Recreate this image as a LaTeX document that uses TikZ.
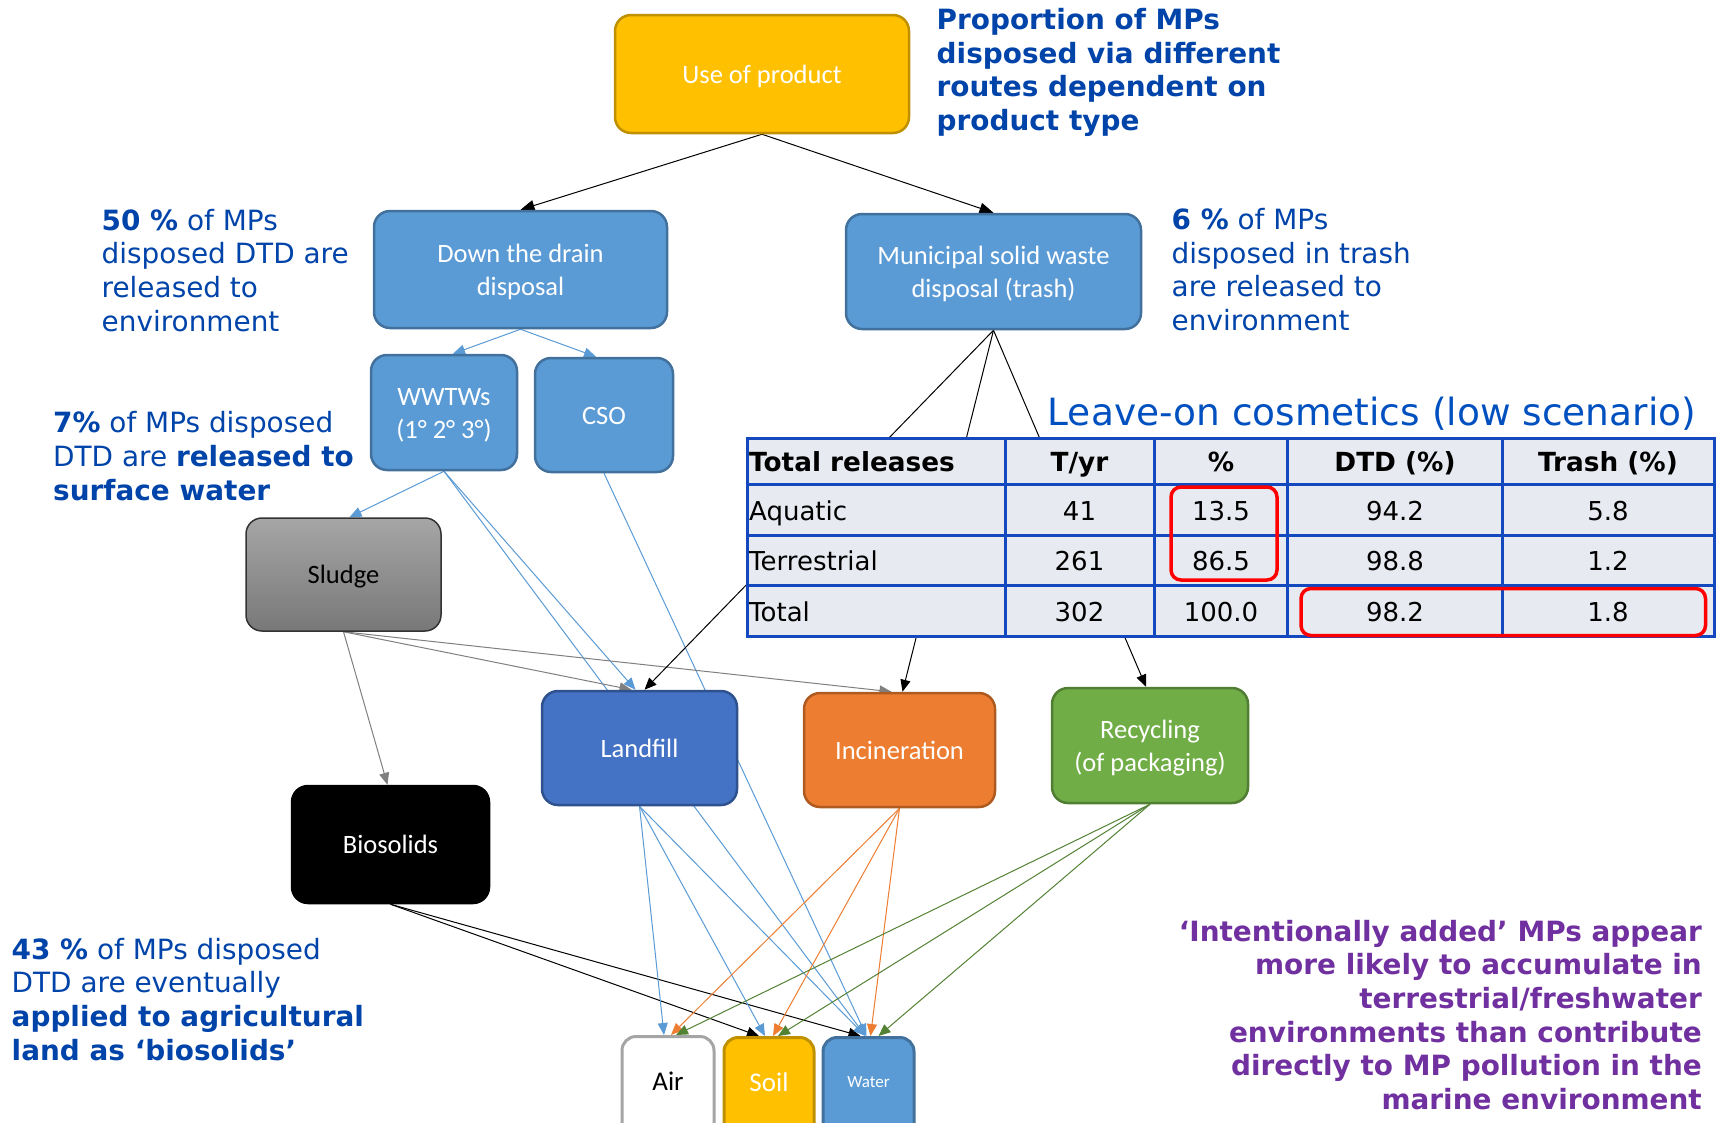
\documentclass[tikz,border=0pt]{standalone}
\usepackage{fontspec}
\usepackage{graphicx}
\setmainfont{DejaVu Sans}
\newfontfamily\calib{Carlito}
\usetikzlibrary{arrows.meta,backgrounds}

\definecolor{txtblue}{RGB}{0,68,170}
\definecolor{leaveblue}{RGB}{0,80,192}
\definecolor{tblblue}{RGB}{20,72,190}
\definecolor{purp}{RGB}{112,48,160}
\definecolor{gold}{RGB}{255,192,0}
\definecolor{goldb}{RGB}{191,144,0}
\definecolor{mblue}{RGB}{91,155,213}
\definecolor{mblueb}{RGB}{65,113,156}
\definecolor{lblue}{RGB}{68,114,196}
\definecolor{lblueb}{RGB}{47,82,143}
\definecolor{orng}{RGB}{237,125,49}
\definecolor{orngb}{RGB}{174,90,33}
\definecolor{grn}{RGB}{112,173,71}
\definecolor{grnb}{RGB}{80,126,50}
\definecolor{grnl}{RGB}{84,130,53}
\definecolor{tblfill}{RGB}{232,234,241}
\definecolor{sludgetop}{RGB}{166,166,166}
\definecolor{sludgebot}{RGB}{120,120,120}
\definecolor{arrgray}{RGB}{128,128,128}
\definecolor{airb}{RGB}{165,165,165}

\newcommand\mytwolines[3]{\parbox[t]{#1}{\centering #2\\#3}}

\begin{document}
\begin{tikzpicture}[x=1pt,y=-1pt,
  box/.style={rectangle, rounded corners=16pt, line width=2.5pt, inner sep=0pt, text=white, font=\calib\fontsize{26.5}{33}\selectfont, text height=21pt, text depth=3pt},
  twoline/.style={text height=19pt, text depth=33pt},
  mbox/.style={box, fill=mblue, draw=mblueb},
  envbox/.style={rectangle, rounded corners=14pt, line width=3pt, inner sep=0pt, anchor=north, text depth=70pt, font=\calib\fontsize{27}{32}\selectfont},
  arr/.style={line width=1pt, -{Triangle[length=12pt,width=10pt]}},
  blkarr/.style={arr, black},
  bigarr/.style={line width=1pt, black, -{Triangle[length=14pt,width=11pt]}},
  bluarr/.style={arr, mblue},
  gryarr/.style={arr, arrgray},
  orarr/.style={arr, orng},
  grarr/.style={arr, grnl},
  note/.style={anchor=base west, inner sep=0pt, text=txtblue, font=\fontsize{27.9}{33.7}\selectfont},
  thead/.style={anchor=base, inner sep=0pt, font=\bfseries\fontsize{26.3}{30}\selectfont},
  tcell/.style={anchor=base, inner sep=0pt, font=\fontsize{26}{30}\selectfont},
  redbox/.style={draw=red, line width=3.5pt, rounded corners=10pt}
]
\useasboundingbox (0,0) rectangle (1727,1122);

% ---------- boxes ----------
\node[box, fill=gold, draw=goldb, minimum width=294pt, minimum height=118pt] (use) at (762,74) {Use of product};
\node[mbox, twoline, minimum width=293pt, minimum height=117pt] (dtd) at (520.5,269.5) {\mytwolines{270pt}{Down the drain}{disposal}};
\node[mbox, twoline, minimum width=295pt, minimum height=115pt] (msw) at (993.5,271.5) {\mytwolines{270pt}{Municipal solid waste}{disposal (trash)}};
\node[mbox, twoline, minimum width=146pt, minimum height=115pt] (wwtw) at (444,412.5) {\mytwolines{130pt}{WWTWs}{(1° 2° 3°)}};
\node[mbox, minimum width=138pt, minimum height=114pt] (cso) at (604,415) {CSO};
\node[box, top color=sludgetop, bottom color=sludgebot, draw=black!80, line width=1.5pt, text=black, minimum width=195pt, minimum height=113pt] (sludge) at (343.5,574.5) {Sludge};
\node[box, fill=black, draw=black, minimum width=197pt, minimum height=117pt] (bio) at (390.5,844.5) {Biosolids};
\node[box, fill=lblue, draw=lblueb, minimum width=195pt, minimum height=114pt] (landfill) at (639.5,748) {Landfill};
\node[box, fill=orng, draw=orngb, minimum width=191pt, minimum height=114pt] (incin) at (899.5,750) {Incineration};
\node[box, twoline, fill=grn, draw=grnb, minimum width=196pt, minimum height=115pt] (recyc) at (1150,745.5) {\mytwolines{180pt}{Recycling}{(of packaging)}};

\node[envbox, fill=white, draw=airb, text=black, minimum width=92pt, text height=53.5pt] (air) at (668,1035) {Air};
\node[envbox, fill=gold, draw=goldb, text=white, minimum width=90pt, text height=53.5pt] (soil) at (769,1036) {Soil};
\node[envbox, fill=mblue, draw=mblueb, text=white, minimum width=91pt, text height=49.5pt, text depth=74pt, font=\calib\fontsize{17}{20}\selectfont] (water) at (868.5,1036) {Water};

% ---------- connectors (behind boxes and table) ----------
\begin{scope}[on background layer]
\fill[white] (0,0) rectangle (1727,1122);
\draw[bigarr] (use.south) -- (dtd.north);
\draw[bigarr] (use.south) -- (msw.north);
\draw[bluarr] (dtd.south) -- ([xshift=9pt]wwtw.north);
\draw[bluarr] (dtd.south) -- ([xshift=-8pt]cso.north);
\draw[bluarr] (wwtw.south) -- ([xshift=6pt]sludge.north);
\draw[bluarr] (wwtw.south) -- ([xshift=-4pt]landfill.north);
\draw[bluarr] (wwtw.south) -- ([xshift=-3pt]water.north);
\draw[bluarr] (cso.south) -- ([xshift=-2pt]water.north);
\draw[gryarr] (sludge.south) -- ([xshift=-3pt]bio.north);
\draw[gryarr] (sludge.south) -- ([xshift=-8pt]landfill.north);
\draw[gryarr] (sludge.south) -- ([xshift=-8pt]incin.north);
\draw[blkarr] (msw.south) -- ([xshift=5pt]landfill.north);
\draw[blkarr] (msw.south) -- ([xshift=3pt]incin.north);
\draw[blkarr] (msw.south) -- ([xshift=-4pt]recyc.north);
\draw[blkarr] (bio.south) -- ([xshift=-10pt]soil.north);
\draw[blkarr] (bio.south) -- ([xshift=-8pt]water.north);
\draw[bluarr] (landfill.south) -- ([xshift=-4pt]air.north);
\draw[bluarr] (landfill.south) -- ([xshift=-4pt]soil.north);
\draw[bluarr] (landfill.south) -- ([xshift=-3pt]water.north);
\draw[orarr] (incin.south) -- ([xshift=3pt]air.north);
\draw[orarr] (incin.south) -- ([xshift=4pt]soil.north);
\draw[orarr] (incin.south) -- ([xshift=2pt]water.north);
\draw[grarr] (recyc.south) -- ([xshift=8pt]air.north);
\draw[grarr] (recyc.south) -- ([xshift=9pt]soil.north);
\draw[grarr] (recyc.south) -- ([xshift=10pt]water.north);
\end{scope}

% ---------- table ----------
\fill[tblfill] (747.5,438.3) rectangle (1714,636.7);
\draw[tblblue, line width=3pt] (747.5,438.3) rectangle (1714,636.7);
\draw[tblblue, line width=3pt] (747.5,484.5) -- (1714,484.5)
  (747.5,535) -- (1714,535) (747.5,585.7) -- (1714,585.7)
  (1005.5,438.3) -- (1005.5,636.7) (1154,438.3) -- (1154,636.7)
  (1287.5,438.3) -- (1287.5,636.7) (1502.5,438.3) -- (1502.5,636.7);

\node[thead, anchor=base west] (h1) at (749,471.5) {Total releases};
\node[thead] (h2) at (1079.5,471.5) {T/yr};
\node[thead] (h3) at (1221,471.5) {\%};
\node[thead] (h4) at (1395,471.5) {DTD (\%)};
\node[thead] (h5) at (1608,471.5) {Trash (\%)};

\node[tcell, anchor=base west] (a1) at (749,520.5) {Aquatic};
\node[tcell] (a2) at (1079.5,520.5) {41};
\node[tcell] (a3) at (1221,520.5) {13.5};
\node[tcell] (a4) at (1395,520.5) {94.2};
\node[tcell] (a5) at (1608,520.5) {5.8};

\node[tcell, anchor=base west] (b1) at (749,570.5) {Terrestrial};
\node[tcell] (b2) at (1079.5,570.5) {261};
\node[tcell] (b3) at (1221,570.5) {86.5};
\node[tcell] (b4) at (1395,570.5) {98.8};
\node[tcell] (b5) at (1608,570.5) {1.2};

\node[tcell, anchor=base west] (c1) at (749,621.5) {Total};
\node[tcell] (c2) at (1079.5,621.5) {302};
\node[tcell] (c3) at (1221,621.5) {100.0};
\node[tcell] (c4) at (1395,621.5) {98.2};
\node[tcell] (c5) at (1608,621.5) {1.8};

\draw[redbox] (1171,487) rectangle (1277,580);
\draw[redbox] (1301,588.5) rectangle (1705.5,635.5);

\node[anchor=base west, inner sep=0pt, text=leaveblue, font=\fontsize{37.5}{41}\selectfont] (leave) at (1047.5,425) {Leave-on cosmetics (low scenario)};

% ---------- annotations ----------
\node[note] (title) at (936.5,29.5) {\parbox[t]{400pt}{\raggedright\bfseries Proportion of MPs\\disposed via different\\routes dependent on\\product type}};
\node[note] (n50) at (101.5,230) {\parbox[t]{300pt}{\raggedright\textbf{50 \%} of MPs\\disposed DTD are\\released to\\environment}};
\node[note] (n6) at (1171.5,229.3) {\parbox[t]{300pt}{\raggedright\textbf{6 \%} of MPs\\disposed in trash\\are released to\\environment}};
\node[note] (n7) at (53,432.7) {\parbox[t]{330pt}{\raggedright\textbf{7\%} of MPs disposed\\DTD are \textbf{released to}\\\textbf{surface water}}};
\node[note] (n43) at (11.5,959) {\parbox[t]{380pt}{\raggedright\textbf{43 \%} of MPs disposed\\DTD are eventually\\\textbf{applied to agricultural}\\\textbf{land as ‘biosolids’}}};
\node[note, anchor=base east, text=purp] (npurp) at (1702,941) {\parbox[t]{600pt}{\raggedleft\bfseries ‘Intentionally added’ MPs appear\\more likely to accumulate in\\terrestrial/freshwater\\environments than contribute\\directly to MP pollution in the\\marine environment}};
\end{tikzpicture}
\end{document}
